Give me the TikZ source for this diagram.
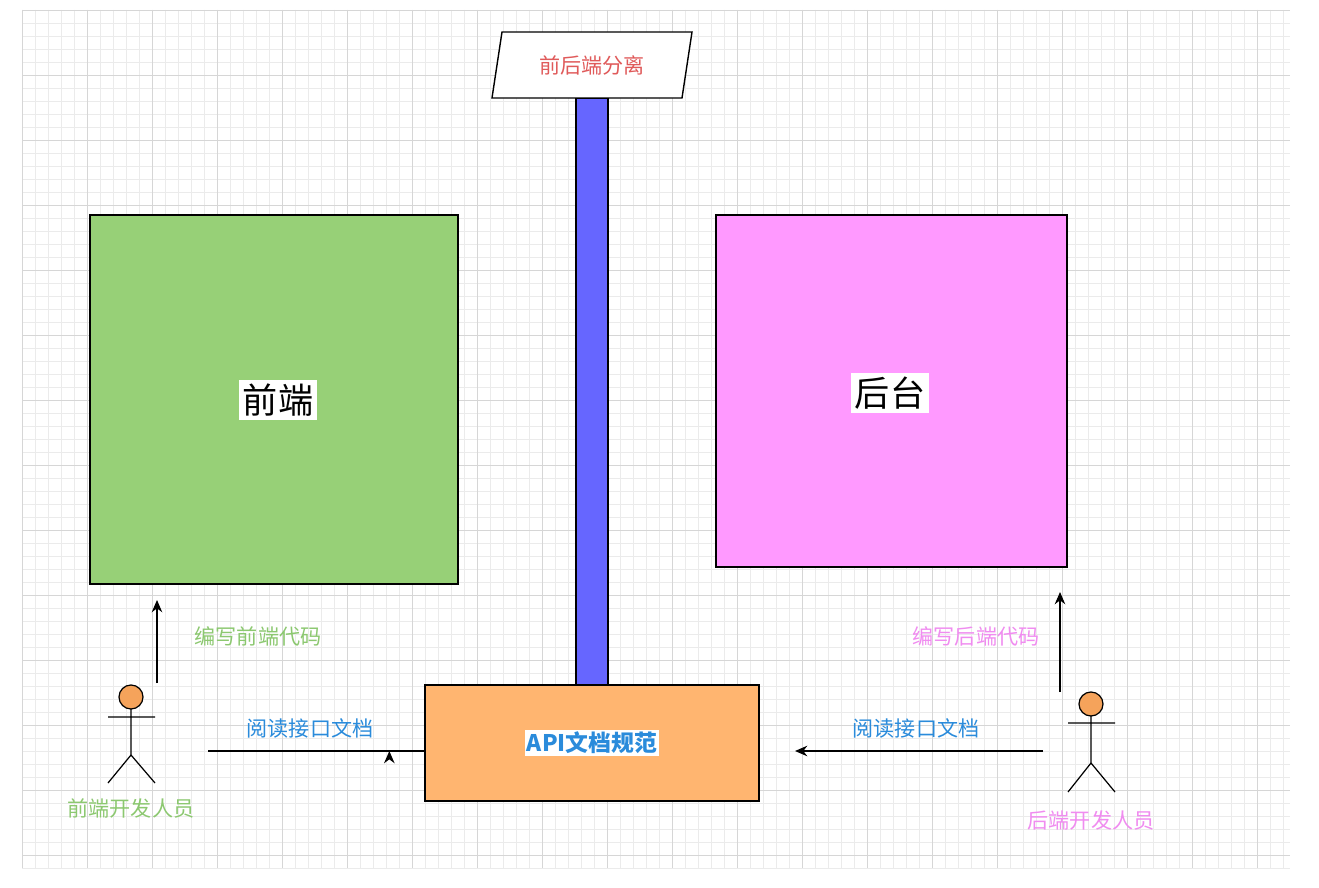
\documentclass[tikz,border=0pt]{standalone}
\usepackage{fontspec}
\newfontfamily\cjk{Noto Sans CJK SC}
\usetikzlibrary{arrows.meta,shapes.geometric}
\definecolor{gfill}{HTML}{97D077}
\definecolor{pfill}{HTML}{FF99FF}
\definecolor{ofill}{HTML}{FFB570}
\definecolor{bfill}{HTML}{6666FF}
\definecolor{gtxt}{HTML}{8CC870}
\definecolor{ptxt}{HTML}{F08CF0}
\definecolor{btxt}{HTML}{2A8BDB}
\definecolor{rtxt}{HTML}{E05A5A}
\definecolor{headc}{HTML}{F5A35B}
\tikzset{
 box/.style={draw=black,line width=0.8pt,minimum width=#1},
 lbl/.style={font=\cjk\fontsize{12}{14}\selectfont,inner sep=1pt},
 conn/.style={-{Stealth[length=7pt,width=6pt]},line width=0.7pt},
 stick/.style={line width=0.7pt}
}
\begin{document}
\begin{tikzpicture}[x=0.02cm,y=-0.02cm]
\useasboundingbox (0,0) rectangle (1319,888);
\fill[white] (0,0) rectangle (1319,888);
\foreach \x in {22,35,...,1290} \draw[black!8,line width=0.3pt] (\x,10) -- (\x,868);
\foreach \y in {10,23,...,868} \draw[black!8,line width=0.3pt] (22,\y) -- (1290,\y);
\foreach \x in {22,87,...,1290} \draw[black!16,line width=0.4pt] (\x,10) -- (\x,868);
\foreach \y in {10,75,...,868} \draw[black!16,line width=0.4pt] (22,\y) -- (1290,\y);
% bar
\node[draw=black,fill=bfill,line width=0.8pt,minimum width=0.64cm,minimum height=11.74cm,inner sep=0] (bar) at (592,391.5) {};
% parallelogram
\draw[fill=white,line width=0.8pt] (502,32) -- (692,32) -- (682,98) -- (492,98) -- cycle;
\node[lbl,text=rtxt] (sep) at (592,65) {前后端分离};
% boxes
\node[draw=black,fill=gfill,line width=0.8pt,minimum width=7.36cm,minimum height=7.38cm,inner sep=0] (fe) at (274,399.5) {};
\node[fill=white,inner sep=2pt,font=\cjk\fontsize{20}{24}\selectfont] at (278,400) {前端};
\node[draw=black,fill=pfill,line width=0.8pt,minimum width=7.02cm,minimum height=7.04cm,inner sep=0] (be) at (891.5,391) {};
\node[fill=white,inner sep=2pt,font=\cjk\fontsize{20}{24}\selectfont] at (890,393) {后台};
\node[draw=black,fill=ofill,line width=0.8pt,minimum width=6.68cm,minimum height=2.32cm,inner sep=0] (api) at (592,743) {};
\node[fill=white,inner sep=1pt,text=btxt,font=\cjk\fontsize{13}{15}\selectfont\bfseries] at (592,743) {API文档规范};
% left actor
\draw[fill=headc,line width=0.7pt] (131,697) circle (12);
\draw[stick] (131,709) -- (131,755) (108,717) -- (155,717) (108,783) -- (131,755) -- (155,783);
\node[lbl,text=gtxt] (fdev) at (131,808) {前端开发人员};
% right actor
\draw[fill=headc,line width=0.7pt] (1091,704) circle (12);
\draw[stick] (1091,716) -- (1091,763) (1068,723) -- (1115,723) (1068,792) -- (1091,763) -- (1115,792);
\node[lbl,text=ptxt] (bdev) at (1091,820) {后端开发人员};
% arrows
\coordinate (a1s) at (157,683); \coordinate (a1e) at (157,600);
\draw[conn] (a1s) -- (a1e);
\node[lbl,text=gtxt] at (258,636) {编写前端代码};
\coordinate (a2s) at (208,751);
\draw[conn] (a2s) -- (api.west|-a2s) ++(-35,0);
\coordinate (a2e) at (390,751);
\node[lbl,text=btxt] at (310,728) {阅读接口文档};
\coordinate (a3s) at (1060,692); \coordinate (a3e) at (1060,592);
\draw[conn] (a3s) -- (a3e);
\node[lbl,text=ptxt] at (976,636) {编写后端代码};
\coordinate (a4s) at (1043,751); \coordinate (a4e) at (795,751);
\draw[conn] (a4s) -- (a4e);
\node[lbl,text=btxt] at (916,728) {阅读接口文档};
\end{tikzpicture}
\end{document}
